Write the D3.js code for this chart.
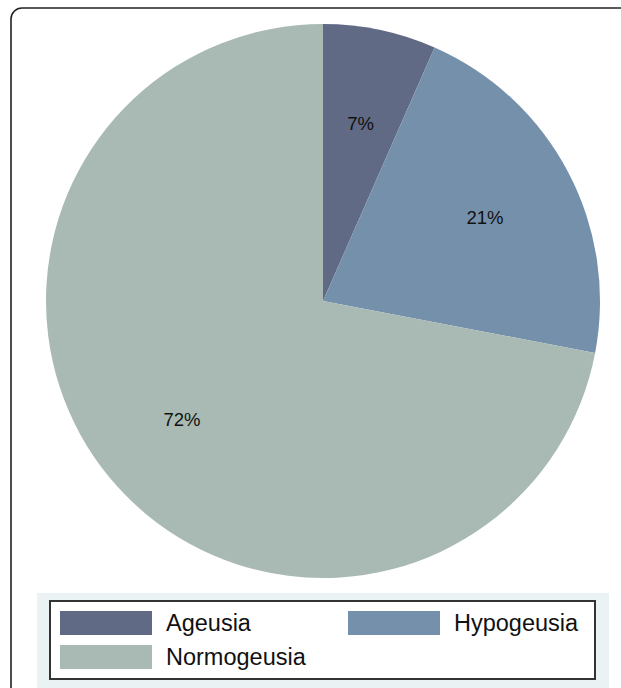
<!DOCTYPE html>
<html>
<head>
<meta charset="utf-8">
<script src="https://cdn.jsdelivr.net/npm/d3@7/dist/d3.min.js"></script>
<style>
html,body{margin:0;padding:0;background:#fff;overflow:hidden;}
svg{display:block;font-family:"Liberation Sans",Arial,sans-serif;}
</style>
</head>
<body>
<svg id="chart" width="621" height="688"></svg>
<script>
const categories = ["Ageusia", "Hypogeusia", "Normogeusia"];
const values = [6.6, 21.4, 72];
const labels = ["7%", "21%", "72%"];
const colors = ["#606a85", "#7590ab", "#a8bab3"];

const svg = d3.select("#chart");

// outer frame
svg.append("rect")
  .attr("x", 11).attr("y", 8).attr("width", 650).attr("height", 720)
  .attr("rx", 11).attr("ry", 11)
  .attr("fill", "#fff").attr("stroke", "#222").attr("stroke-width", 1.6);

const cx = 323, cy = 301, r = 277;
const data = categories.map((c, i) => ({cat: c, value: values[i], label: labels[i], color: colors[i]}));

const pie = d3.pie().value(d => d.value).sort(null);
const arc = d3.arc().innerRadius(0).outerRadius(r);
const labelArc = d3.arc().innerRadius(183).outerRadius(183);

const g = svg.append("g").attr("transform", `translate(${cx},${cy})`);
const arcs = pie(data);
g.selectAll("path").data(arcs).enter().append("path")
  .attr("d", arc).attr("fill", d => d.data.color);

g.selectAll("text").data(arcs).enter().append("text")
  .attr("transform", d => `translate(${labelArc.centroid(d)})`)
  .attr("text-anchor", "middle").attr("dy", "0.45em")
  .attr("font-size", 18.5).attr("fill", "#111")
  .text(d => d.data.label);

// legend
svg.append("rect").attr("x", 37).attr("y", 593).attr("width", 572).attr("height", 100)
  .attr("fill", "#eaf2f4");
svg.append("rect").attr("x", 50).attr("y", 601).attr("width", 545).attr("height", 78)
  .attr("fill", "#fff").attr("stroke", "#333").attr("stroke-width", 2);

const legendPos = [
  {x: 60, y: 611},
  {x: 348, y: 611},
  {x: 60, y: 645}
];
const lg = svg.append("g");
const items = lg.selectAll("g").data(data).enter().append("g")
  .attr("transform", (d, i) => `translate(${legendPos[i].x},${legendPos[i].y})`);
items.append("rect").attr("width", 92).attr("height", 24).attr("fill", d => d.color);
items.append("text").attr("x", 106).attr("y", 12).attr("dy", "0.35em")
  .attr("font-size", 23.5).attr("fill", "#111").text(d => d.cat);
</script>
</body>
</html>
